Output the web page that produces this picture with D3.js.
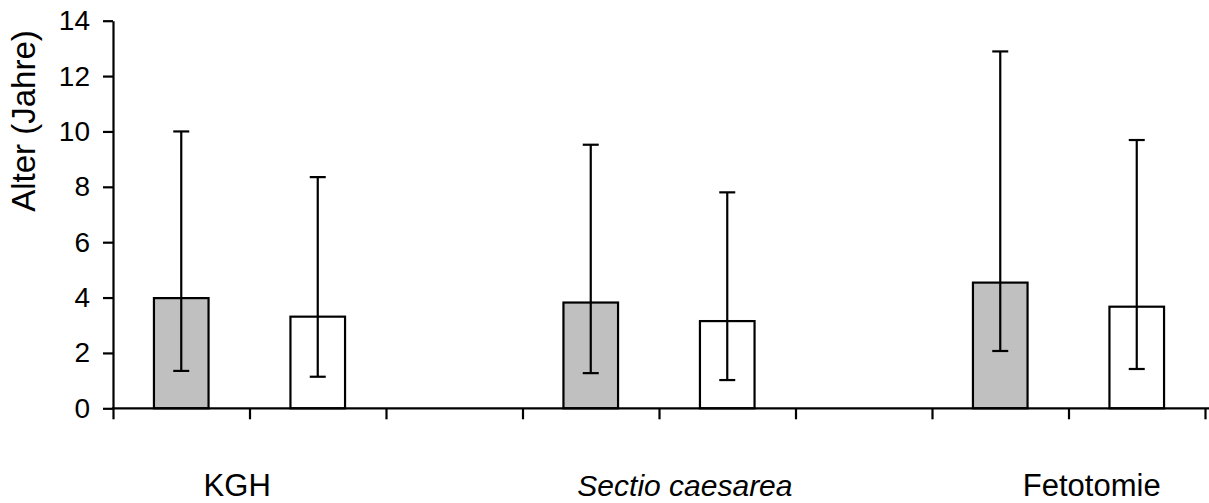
<!DOCTYPE html>
<html>
<head>
<meta charset="utf-8">
<script src="https://cdn.jsdelivr.net/npm/d3@7"></script>
<style>
  html, body { margin: 0; padding: 0; background: #fff; }
  svg { display: block; font-family: "Liberation Sans", Arial, sans-serif; }
</style>
</head>
<body>
<svg id="chart" width="1209" height="503"></svg>
<script>
// Delivery method groups
const categories = ["KGH", "Sectio caesarea", "Fetotomie"];
// Grey series: mean age and error range
const greyMean  = [3.98, 3.82, 4.54];
const greyUpper = [10.0, 9.52, 12.89];
const greyLower = [1.35, 1.27, 2.07];
// White series: mean age and error range
const whiteMean  = [3.31, 3.15, 3.67];
const whiteUpper = [8.35, 7.80, 9.69];
const whiteLower = [1.14, 1.02, 1.42];
// Y axis ticks
const yTicks = [0, 2, 4, 6, 8, 10, 12, 14];
const yTitle = "Alter (Jahre)";

// Layout
const plotLeft = 113, plotRight = 1205, plotTop = 20.7, plotBottom = 408.3;
const slotsPerGroup = 3;            // two bars and an empty slot
const nSlots = 8;
// category label centre, in slot units from the left axis
const labelSlot = [0.91, 4.19, 7.17];

const svg = d3.select("#chart");

const slots = d3.range(nSlots);
const x = d3.scaleBand().domain(slots).range([plotLeft, plotRight])
  .paddingInner(0.6).paddingOuter(0.3);
const xLin = d3.scaleLinear().domain([0, nSlots]).range([plotLeft, plotRight]);
const y = d3.scaleLinear().domain([0, 14]).range([plotBottom, plotTop]);

// rows: one per drawn bar
const rows = [];
categories.forEach((c, i) => {
  rows.push({ slot: i * slotsPerGroup,     mean: greyMean[i],  hi: greyUpper[i],  lo: greyLower[i],  fill: "#c0c0c0" });
  rows.push({ slot: i * slotsPerGroup + 1, mean: whiteMean[i], hi: whiteUpper[i], lo: whiteLower[i], fill: "#ffffff" });
});

// Bars
svg.append("g").selectAll("rect").data(rows).join("rect")
  .attr("x", d => x(d.slot))
  .attr("y", d => y(d.mean))
  .attr("width", x.bandwidth())
  .attr("height", d => y(0) - y(d.mean))
  .attr("fill", d => d.fill)
  .attr("stroke", "#000")
  .attr("stroke-width", 2.2);

// Error bars
const capW = 16;
const eb = svg.append("g").attr("stroke", "#000").attr("stroke-width", 2.2);
rows.forEach(d => {
  const cx = x(d.slot) + x.bandwidth() / 2;
  eb.append("line").attr("x1", cx).attr("x2", cx).attr("y1", y(d.hi)).attr("y2", y(d.lo));
  eb.append("line").attr("x1", cx - capW / 2).attr("x2", cx + capW / 2).attr("y1", y(d.hi)).attr("y2", y(d.hi));
  eb.append("line").attr("x1", cx - capW / 2).attr("x2", cx + capW / 2).attr("y1", y(d.lo)).attr("y2", y(d.lo));
});

// Y axis
const yAxis = d3.axisLeft(y).tickValues(yTicks).tickSize(10).tickPadding(13).tickSizeOuter(0);
const gy = svg.append("g").attr("transform", `translate(${plotLeft},0)`).call(yAxis);
gy.select(".domain").attr("stroke", "#000").attr("stroke-width", 2.2);
gy.selectAll(".tick line").attr("stroke", "#000").attr("stroke-width", 2.2);
gy.selectAll(".tick text").attr("font-size", 28).attr("fill", "#000")
  .attr("font-family", "Liberation Sans, Arial, sans-serif");

// X axis: ticks at slot boundaries
const xAxis = d3.axisBottom(xLin).tickValues(d3.range(0, nSlots + 1)).tickSize(11).tickFormat("").tickSizeOuter(0);
const gx = svg.append("g").attr("transform", `translate(0,${plotBottom})`).call(xAxis);
gx.select(".domain").remove();
gx.selectAll(".tick line").attr("stroke", "#000").attr("stroke-width", 2.2);
gx.append("line").attr("x1", plotLeft - 1).attr("x2", 1209).attr("y1", 0).attr("y2", 0)
  .attr("stroke", "#000").attr("stroke-width", 2.2);

// Category labels
svg.append("g").selectAll("text").data(categories).join("text")
  .attr("x", (d, i) => xLin(labelSlot[i]))
  .attr("y", 496)
  .attr("text-anchor", "middle")
  .attr("font-size", (d, i) => i === 1 ? 30 : 31)
  .attr("font-style", (d, i) => i === 1 ? "italic" : "normal")
  .attr("fill", "#000")
  .text(d => d);

// Y axis title
svg.append("text")
  .attr("transform", `translate(35,121) rotate(-90)`)
  .attr("text-anchor", "middle")
  .attr("font-size", 33)
  .attr("fill", "#000")
  .text(yTitle);
</script>
</body>
</html>
